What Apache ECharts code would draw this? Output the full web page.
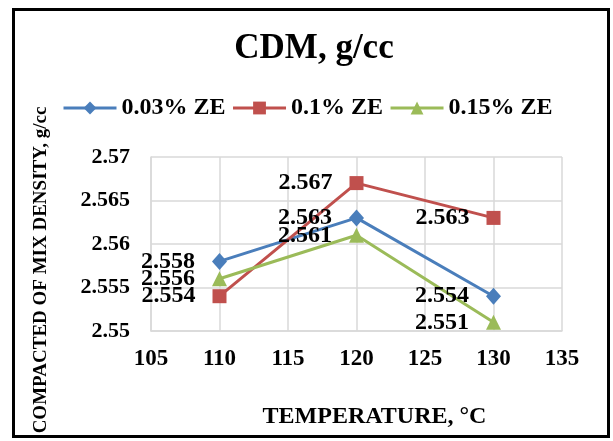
<!DOCTYPE html>
<html>
<head>
<meta charset="utf-8">
<script src="https://cdn.jsdelivr.net/npm/echarts@6/dist/echarts.min.js"></script>
<style>
html,body{margin:0;padding:0;background:#fff;}
#chart{width:613px;height:441px;}
</style>
</head>
<body>
<div id="chart"></div>
<script>
var temperatures = [110, 120, 130];
var ze003 = [2.558, 2.563, 2.554];
var ze01 = [2.554, 2.567, 2.563];
var ze015 = [2.556, 2.561, 2.551];
var seriesNames = ['0.03% ZE', '0.1% ZE', '0.15% ZE'];
var titleText = 'CDM, g/cc';
var xName = 'TEMPERATURE, °C';
var yName = 'COMPACTED OF MIX DENSITY, g/cc';

var FONT = '"Liberation Serif", "Times New Roman", serif';

function pairs(xs, ys) {
  return xs.map(function (x, i) { return [x, ys[i]]; });
}

function mkSeries(name, data, color, symbol, size) {
  return {
    name: name,
    type: 'line',
    data: pairs(temperatures, data),
    symbol: symbol,
    symbolSize: size,
    lineStyle: { color: color, width: 3 },
    itemStyle: { color: color },
    label: {
      show: true,
      position: 'left',
      distance: 17,
      color: '#000',
      fontFamily: FONT,
      fontWeight: 'bold',
      fontSize: 24,
      formatter: function (p) { return p.value[1].toFixed(3); }
    },
    z: 3
  };
}

var chart = echarts.init(document.getElementById('chart'), null, { renderer: 'canvas' });
chart.setOption({
  animation: false,
  backgroundColor: '#fff',
  title: {
    text: titleText,
    left: 309,
    textAlign: 'center',
    top: 26,
    textStyle: { fontFamily: FONT, fontWeight: 'bold', fontSize: 35, color: '#000' }
  },
  legend: {
    top: 91,
    left: 57,
    itemWidth: 53,
    itemHeight: 16,
    itemGap: 6,
    data: seriesNames,
    lineStyle: { width: 3 },
    textStyle: { fontFamily: FONT, fontWeight: 'bold', fontSize: 24, color: '#000' }
  },
  grid: { left: 151, right: 51, top: 157, bottom: 110 },
  xAxis: {
    type: 'value',
    min: 105,
    max: 135,
    interval: 5,
    name: xName,
    nameLocation: 'middle',
    nameGap: 74,
    nameTextStyle: { fontFamily: FONT, fontWeight: 'bold', fontSize: 24, color: '#000', padding: [0, 0, 0, 36] },
    axisLine: { show: true, lineStyle: { color: '#d9d9d9', width: 1.5 } },
    axisTick: { show: false },
    splitLine: { show: true, lineStyle: { color: '#d9d9d9', width: 1.5 } },
    axisLabel: { margin: 17, fontFamily: FONT, fontWeight: 'bold', fontSize: 23, color: '#000' }
  },
  yAxis: {
    type: 'value',
    min: 2.55,
    max: 2.57,
    interval: 0.005,
    name: yName,
    nameLocation: 'middle',
    nameRotate: 90,
    nameGap: 100,
    nameTextStyle: { fontFamily: FONT, fontWeight: 'bold', fontSize: 19, color: '#000', padding: [0, 52, 0, 0] },
    axisLine: { show: true, lineStyle: { color: '#d9d9d9', width: 1.5 } },
    axisTick: { show: false },
    splitLine: { show: true, lineStyle: { color: '#d9d9d9', width: 1.5 } },
    axisLabel: { margin: 21, fontFamily: FONT, fontWeight: 'bold', fontSize: 22, color: '#000' }
  },
  series: [
    mkSeries(seriesNames[0], ze003, '#4A7EBB', 'diamond', [15, 17]),
    mkSeries(seriesNames[1], ze01, '#C0504D', 'rect', 14),
    mkSeries(seriesNames[2], ze015, '#9BBB59', 'triangle', 15)
  ],
  graphic: [{
    type: 'rect',
    shape: { x: 13.5, y: 9.5, width: 595, height: 427 },
    style: { fill: 'none', stroke: '#000', lineWidth: 3 },
    silent: true
  }]
});
</script>
</body>
</html>
